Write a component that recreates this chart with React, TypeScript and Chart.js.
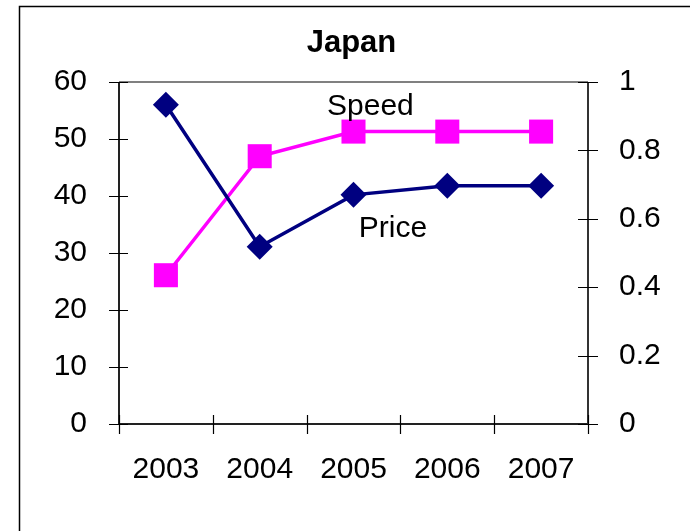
import React, { useEffect, useRef } from "react";
import { Chart, registerables } from "chart.js";
Chart.register(...registerables);

const years = ["2003", "2004", "2005", "2006", "2007"];
const price = [56, 31.1, 40.2, 41.8, 41.8];
const speed = [0.435, 0.783, 0.855, 0.855, 0.855];
const leftTicks = [0, 10, 20, 30, 40, 50, 60];
const rightTicks = [0, 0.2, 0.4, 0.6, 0.8, 1];
const titleText = "Japan";
const priceLabel = "Price";
const speedLabel = "Speed";

const FONT = "'Liberation Sans', Arial, sans-serif";

const decorPlugin = {
  id: "decor",
  beforeDraw(chart: any) {
    const ctx = chart.ctx;
    ctx.save();
    ctx.fillStyle = "#fff";
    ctx.fillRect(0, 0, chart.width, chart.height);
    ctx.strokeStyle = "#000";
    ctx.lineWidth = 1.5;
    ctx.strokeRect(19.5, 6.5, chart.width + 20, chart.height + 20);
    ctx.restore();
  },
  afterDatasetsDraw(chart: any) {
    const ctx = chart.ctx;
    const a = chart.chartArea;
    const xs = chart.scales.x;
    const y = chart.scales.y;
    const y2 = chart.scales.y2;
    ctx.save();
    ctx.lineWidth = 2;
    ctx.strokeStyle = "#808080";
    ctx.beginPath();
    ctx.moveTo(a.left, a.top);
    ctx.lineTo(a.right, a.top);
    ctx.stroke();
    ctx.strokeStyle = "#222";
    ctx.beginPath();
    ctx.moveTo(a.left, a.top);
    ctx.lineTo(a.left, a.bottom);
    ctx.lineTo(a.right, a.bottom);
    ctx.stroke();
    ctx.strokeStyle = "#333";
    ctx.beginPath();
    ctx.moveTo(a.right, a.top);
    ctx.lineTo(a.right, a.bottom);
    ctx.stroke();
    ctx.strokeStyle = "#000";
    ctx.lineWidth = 1.2;
    ctx.beginPath();
    leftTicks.forEach((v) => {
      const py = Math.round(y.getPixelForValue(v)) + 0.5;
      ctx.moveTo(a.left - 10, py);
      ctx.lineTo(a.left + 9, py);
    });
    rightTicks.forEach((v) => {
      const py = Math.round(y2.getPixelForValue(v)) + 0.5;
      ctx.moveTo(a.right - 10, py);
      ctx.lineTo(a.right + 10, py);
    });
    for (let i = 0; i <= years.length; i++) {
      const px = Math.round(xs.getPixelForValue(i - 0.5)) + 0.5;
      ctx.moveTo(px, a.bottom - 9);
      ctx.lineTo(px, a.bottom + 10);
    }
    ctx.stroke();
    ctx.fillStyle = "#000";
    ctx.font = `bold 31px ${FONT}`;
    ctx.textAlign = "center";
    ctx.textBaseline = "alphabetic";
    ctx.fillText(titleText, (a.left + a.right) / 2 - 2, 52);
    ctx.font = `30px ${FONT}`;
    ctx.fillText(speedLabel, xs.getPixelForValue(2.18), y.getPixelForValue(54.2));
    ctx.fillText(priceLabel, xs.getPixelForValue(2.42), y.getPixelForValue(32.8));
    ctx.restore();
  },
};

export default function App() {
  const ref = useRef<HTMLCanvasElement | null>(null);
  useEffect(() => {
    if (!ref.current) return;
    const tickFont = { family: FONT, size: 30 };
    const chart = new Chart(ref.current, {
      type: "line",
      data: {
        labels: years,
        datasets: [
          {
            label: priceLabel,
            data: price,
            yAxisID: "y",
            borderColor: "#000080",
            backgroundColor: "#000080",
            borderWidth: 3.5,
            pointStyle: "rectRot",
            pointRadius: 13,
            pointBorderWidth: 0,
            pointBackgroundColor: "#000080",
            tension: 0,
          },
          {
            label: speedLabel,
            data: speed,
            yAxisID: "y2",
            borderColor: "#FF00FF",
            backgroundColor: "#FF00FF",
            borderWidth: 3.5,
            pointStyle: "rect",
            pointRadius: 17,
            pointBorderWidth: 0,
            pointBackgroundColor: "#FF00FF",
            tension: 0,
          },
        ],
      },
      options: {
        responsive: false,
        animation: false,
        layout: { padding: { top: 82, left: 0, right: 0, bottom: 0 } },
        plugins: { legend: { display: false }, title: { display: false }, tooltip: { enabled: false } },
        scales: {
          x: {
            type: "category",
            offset: true,
            grid: { display: false },
            border: { display: false },
            ticks: { font: tickFont, color: "#000", padding: 20, maxRotation: 0, autoSkip: false },
            afterFit: (s: any) => { s.height = 107; },
          },
          y: {
            position: "left",
            min: 0,
            max: 60,
            grid: { display: false },
            border: { display: false },
            ticks: { font: tickFont, color: "#000", stepSize: 10, padding: 24 },
            afterFit: (s: any) => { s.width = 119; },
          },
          y2: {
            position: "right",
            min: 0,
            max: 1,
            grid: { display: false },
            border: { display: false },
            ticks: {
              font: tickFont,
              color: "#000",
              stepSize: 0.2,
              padding: 23,
              callback: (v: any) => String(+Number(v).toFixed(1)),
            },
            afterFit: (s: any) => { s.width = 102; },
          },
        },
      },
      plugins: [decorPlugin],
    } as any);
    return () => chart.destroy();
  }, []);
  return (
    <div style={{ position: "fixed", left: 0, top: 0, width: 690, height: 531, background: "#fff" }}>
      <canvas ref={ref} width={690} height={531} style={{ display: "block" }} />
    </div>
  );
}
